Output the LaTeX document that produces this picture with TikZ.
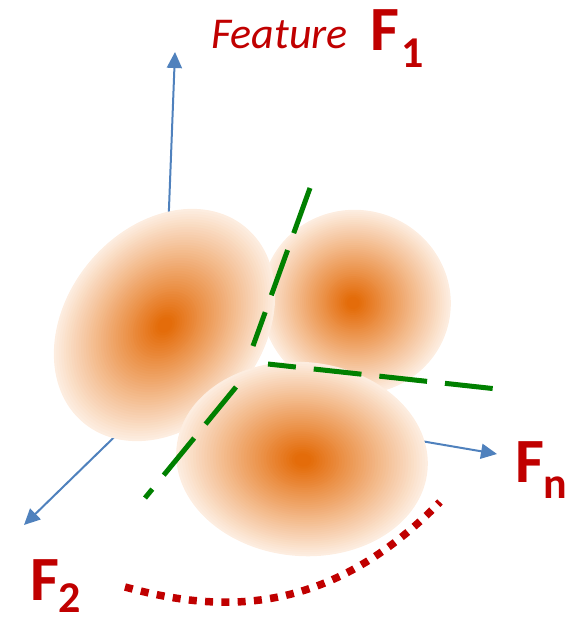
\documentclass[tikz,border=0pt]{standalone}
\usepackage{fontspec}
\setmainfont{Carlito}
\usetikzlibrary{arrows.meta}
\definecolor{blobor}{RGB}{228,108,10}
\definecolor{blobpale}{RGB}{253,237,224}
\definecolor{axisblue}{RGB}{79,129,189}
\definecolor{sepgreen}{RGB}{0,128,0}
\definecolor{labred}{RGB}{192,0,0}
% #1 cx, #2 cy, #3 gx, #4 gy, #5 rx, #6 ry, #7 rotation
\newcommand\drawblob[7]{%
  \foreach \i in {0,...,44}{%
    \pgfmathsetmacro\tt{1-\i/45}%
    \pgfmathsetmacro\ff{min(100,100*(1-\tt)/0.93)}%
    \pgfmathsetmacro\px{#3+(#1-#3)*\tt}%
    \pgfmathsetmacro\py{#4+(#2-#4)*\tt}%
    \pgfmathsetmacro\rx{#5*\tt}%
    \pgfmathsetmacro\ry{#6*\tt}%
    \fill[blobor!\ff!blobpale, rotate around={#7:(\px,\py)}]
      (\px,\py) ellipse [x radius=\rx pt, y radius=\ry pt];
  }%
}
\begin{document}
\begin{tikzpicture}[x=1pt,y=-1pt,
  axis/.style={draw=axisblue, line width=2pt, -{Triangle[length=16pt,width=15pt]}},
  sep/.style={draw=sepgreen, line width=5pt, dash pattern=on 48pt off 18pt},
  boundary/.style={draw=labred, line width=7.5pt, dash pattern=on 8pt off 8.3pt},
  lab/.style={text=labred, inner sep=0pt, anchor=base west, text depth=0pt},
  bigf/.style={lab, font=\fontsize{63}{63}\selectfont\bfseries},
  subf/.style={lab, font=\fontsize{44}{44}\selectfont\bfseries},
]
\useasboundingbox (0,0) rectangle (574,621);

% axes (behind the clusters)
\coordinate (o1) at (167,260);
\coordinate (t1) at (175,52);
\coordinate (o2) at (140,412);
\coordinate (t2) at (24,525);
\coordinate (o3) at (380,434);
\coordinate (t3) at (497,454);
\draw[axis] (o1) -- (t1);
\draw[axis] (o2) -- (t2);
\draw[axis] (o3) -- (t3);

% clusters
\drawblob{356}{302}{353}{303}{95}{92}{-15}
\drawblob{164.5}{325}{165}{325}{127}{98}{50.5}
\drawblob{302}{459}{303}{460}{126}{97}{-5}

% separating lines
\coordinate (g1a) at (310,188);
\coordinate (g1b) at (253,346);
\coordinate (g2a) at (236,387);
\coordinate (g2b) at (145,498);
\coordinate (g3a) at (268,364);
\coordinate (g3b) at (497,389);
\draw[sep] (g1a) -- (g1b);
\draw[sep] (g2a) -- (g2b);
\draw[sep, dash phase=20pt] (g3a) -- (g3b);

% dotted boundary
\coordinate (r0) at (125,587);
\coordinate (r1) at (440,502);
\draw[boundary] (r0) .. controls (210,610) and (322,623) .. (r1);

% labels
\node[lab, font=\fontsize{44}{44}\selectfont\itshape] (feat) at (211,48) {Feature};
\node[bigf] (f1) at (370,50) {F};
\node[subf] (f1s) at (401,67) {1};
\node[bigf] (fn) at (515,482) {F};
\node[subf] (fns) at (543,498) {n};
\node[bigf] (f2) at (30,600) {F};
\node[subf] (f2s) at (58,612) {2};
\end{tikzpicture}
\end{document}
